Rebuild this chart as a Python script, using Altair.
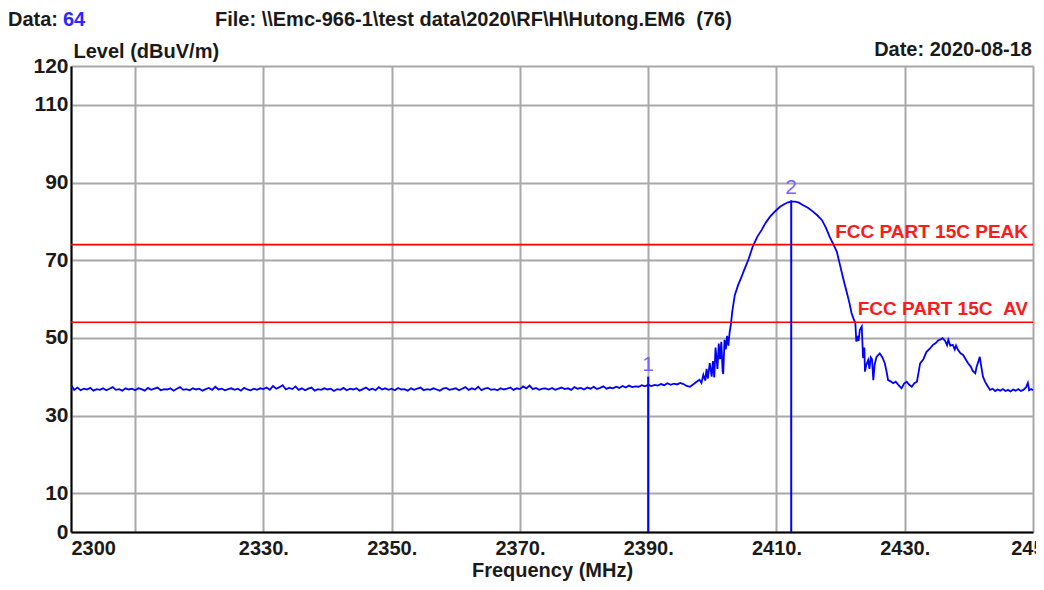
import altair as alt
import pandas as pd

# ---------------- data ----------------
# noise floor 2300 .. 2388 MHz, 0.5 MHz steps
noise_start = 2300.0
noise_step = 0.5
noise_level = [
    37.9, 36.6, 37.2, 36.5, 36.9, 36.7, 37.1, 36.4, 36.8, 36.6,
    37.0, 36.5, 36.9, 37.3, 36.6, 36.8, 36.4, 37.0, 36.7, 36.9,
    36.5, 37.0, 36.8, 36.4, 37.1, 36.6, 36.9, 37.2, 36.5, 36.8,
    36.7, 37.0, 36.4, 36.9, 37.3, 36.6, 36.8, 36.5, 37.0, 36.7,
    36.9, 36.4, 36.8, 37.1, 36.6, 37.4, 36.7, 36.9, 36.5, 36.8,
    37.0, 36.6, 36.9, 36.4, 37.1, 36.7, 36.5, 36.9, 36.6, 37.0,
    36.8, 37.2, 36.6, 37.6, 36.9, 37.3, 37.8, 36.7, 37.1, 36.8,
    37.5, 36.6, 37.0, 36.5, 36.9, 37.2, 36.4, 36.8, 36.6, 37.0,
    36.7, 36.9, 36.3, 36.8, 36.6, 37.1, 36.5, 36.9, 36.7, 37.0,
    36.4, 36.8, 37.2, 36.6, 36.9, 36.5, 37.3, 36.7, 37.0, 36.6,
    36.9, 36.5, 37.1, 36.7, 36.8, 36.4, 37.0, 36.6, 36.9, 37.2,
    36.5, 36.8, 36.6, 37.0, 36.7, 36.4, 36.9, 37.1, 36.6, 36.8,
    37.0, 36.5, 36.9, 37.3, 36.6, 37.0, 36.7, 37.4, 36.5, 36.9,
    37.1, 36.6, 36.8, 36.5, 37.0, 36.7, 36.9, 37.2, 36.6, 37.0,
    36.8, 37.5, 37.0, 37.7, 36.8, 37.1, 36.6, 36.9, 37.0, 36.7,
    37.1, 36.6, 36.9, 37.2, 36.8, 37.0, 36.6, 37.3, 36.9, 37.1,
    36.7, 37.2, 36.9, 37.4, 36.8, 37.1, 37.5, 36.9, 37.2, 37.0,
    37.4, 37.1, 37.6, 37.2, 37.7, 37.3, 37.5,
]
noise_freq = [noise_start + noise_step * i for i in range(len(noise_level))]

# signal region 2388.5 .. 2450 MHz
sig_freq = [
    2388.5, 2389.0, 2389.5, 2390.0, 2390.5, 2391.0, 2391.5, 2392.0, 2392.5, 2393.0,
    2393.5, 2394.0, 2394.5, 2395.0, 2395.5, 2396.0, 2396.5, 2397.0, 2397.5, 2398.0,
    2398.3, 2398.6, 2398.9, 2399.1, 2399.3, 2399.6, 2399.9, 2400.1, 2400.3, 2400.5,
    2400.8, 2401.0, 2401.2, 2401.4, 2401.6, 2401.7, 2401.9, 2402.1, 2402.3, 2402.5,
    2402.7, 2402.9, 2403.1, 2403.5, 2404.0, 2404.5, 2405.1, 2405.7, 2406.3, 2407.0,
    2407.7, 2408.3, 2409.0, 2409.8, 2410.6, 2411.2, 2411.8, 2412.3, 2412.9, 2413.5,
    2414.1, 2414.9, 2415.7, 2416.4, 2417.1, 2417.7, 2418.3, 2418.9, 2419.4, 2419.8,
    2420.2, 2420.6, 2421.0, 2421.4, 2421.7, 2422.0, 2422.3, 2422.45, 2422.6, 2422.8,
    2423.0, 2423.3, 2423.5, 2423.7, 2423.8, 2424.0, 2424.3, 2424.5, 2424.7, 2424.9,
    2425.1, 2425.3, 2425.6, 2426.1, 2426.5, 2426.9, 2427.2, 2427.4, 2427.8, 2428.2,
    2428.6, 2429.0, 2429.5, 2429.9, 2430.3, 2430.7, 2431.1, 2431.5, 2431.9, 2432.2,
    2432.4, 2432.9, 2433.4, 2433.9, 2434.4, 2434.8, 2435.2, 2435.6, 2435.9, 2436.3,
    2436.6, 2436.8, 2437.1, 2437.5, 2437.8, 2438.0, 2438.3, 2438.7, 2439.1, 2439.5,
    2439.9, 2440.3, 2440.6, 2441.0, 2441.2, 2441.5, 2441.7, 2441.9, 2442.2, 2442.5,
    2442.8, 2443.3, 2443.7, 2444.1, 2444.5, 2444.9, 2445.3, 2445.7, 2446.1, 2446.5,
    2446.9, 2447.3, 2447.7, 2448.1, 2448.5, 2448.9, 2449.2, 2449.4, 2449.7, 2450.0,
]
sig_level = [
    37.4, 37.8, 37.5, 37.9, 37.6, 37.9, 37.7, 38.1, 37.8, 38.3,
    37.9, 38.2, 38.0, 38.4, 38.1, 37.6, 37.4, 38.0, 38.6, 39.2,
    38.4, 40.5, 39.0, 42.0, 39.5, 43.5, 40.0, 44.0, 39.8, 47.5,
    42.0, 48.5, 44.5, 49.0, 41.5, 40.7, 49.5, 47.0, 50.5, 48.0,
    51.5, 53.5, 56.7, 61.0, 63.5, 65.5, 68.0, 70.5, 73.5, 76.0,
    77.8, 79.6, 81.2, 82.6, 83.8, 84.4, 84.9, 85.1, 85.1, 84.8,
    84.2, 83.5, 82.5, 81.5, 80.3, 78.4, 76.0, 74.0, 72.2, 69.5,
    66.7, 64.0, 61.5, 58.8, 56.4, 55.0, 53.8, 49.0, 50.5, 49.2,
    52.0, 52.9, 44.8, 47.5, 41.3, 43.0, 44.3, 42.0, 45.0, 44.5,
    39.1, 43.0, 45.1, 46.0, 45.0, 43.4, 41.0, 39.1, 38.8, 38.3,
    38.7, 37.9, 37.0, 38.2, 38.7, 37.9, 37.4, 38.3, 38.7, 41.5,
    43.4, 44.5, 46.4, 47.2, 48.2, 48.6, 49.3, 49.6, 49.9, 49.2,
    48.1, 49.5, 48.0, 48.2, 47.0, 48.0, 46.9, 46.0, 45.6, 44.5,
    43.4, 42.6, 41.5, 40.9, 42.5, 44.0, 45.1, 43.0, 40.0, 38.8,
    37.9, 36.6, 36.9, 36.3, 36.7, 36.4, 36.8, 36.3, 36.6, 36.2,
    36.7, 36.4, 36.8, 36.3, 36.6, 37.2, 38.4, 36.5, 36.8, 36.5,
]

freq = noise_freq + sig_freq
level = noise_level + sig_level

limit_values = [74.0, 54.0]
limit_labels = ["FCC PART 15C PEAK", "FCC PART 15C\u00a0\u00a0AV"]

marker_freq = [2390.0, 2412.3]
marker_level = [40.0, 85.4]
marker_names = ["1", "2"]

x_ticks = [2300, 2310, 2330, 2350, 2370, 2390, 2410, 2430, 2450]
x_tick_labels = ["2300", "", "2330.", "2350.", "2370.", "2390.", "2410.", "2430.", "2450"]
y_ticks = [0, 10, 30, 50, 70, 90, 110, 120]

header_data_label = "Data:"
header_data_value = "64"
header_file = "File: \\\\Emc-966-1\\test data\\2020\\RF\\H\\Hutong.EM6\u00a0\u00a0(76)"
header_date = "Date: 2020-08-18"
x_title = "Frequency (MHz)"
y_title = "Level (dBuV/m)"

# ---------------- chart ----------------
FONT = "Liberation Sans"
TXT = "#1a1a1a"
PLOT_W, PLOT_H = 962, 466

trace_df = pd.DataFrame({"freq": freq, "level": level})
limit_df = pd.DataFrame({"value": limit_values, "label": limit_labels})
marker_df = pd.DataFrame({"freq": marker_freq, "level": marker_level,
                          "zero": [0.0] * len(marker_freq), "name": marker_names})

label_expr = " : ".join(
    f"datum.value == {v} ? '{t}'" for v, t in zip(x_ticks, x_tick_labels)
) + " : ''"

x_scale = alt.Scale(domain=[2300, 2450], nice=False, zero=False)
y_scale = alt.Scale(domain=[0, 120], nice=False, zero=True)

x_axis = alt.Axis(
    values=x_ticks, labelExpr=label_expr,
    labelAlign={"expr": "datum.value == 2300 ? 'left' : 'center'"},
    labelFont=FONT, labelFontSize=20, labelFontWeight="bold", labelColor=TXT,
    labelPadding=6, ticks=False, grid=True, gridColor="#a8a8a8", gridWidth=2,
    domain=True, domainColor="#000000", domainWidth=2,
    title=x_title, titleFont=FONT, titleFontSize=20, titleFontWeight="bold",
    titleColor=TXT, titlePadding=2,
)
y_axis = alt.Axis(
    values=y_ticks, labelFont=FONT, labelFontSize=21, labelFontWeight="bold",
    labelColor=TXT, labelPadding=3, ticks=False, grid=True, gridColor="#a8a8a8",
    gridWidth=2, domain=True, domainColor="#000000", domainWidth=2,
    title=y_title, titleFont=FONT, titleFontSize=20, titleFontWeight="bold",
    titleColor=TXT, titleAngle=0, titleAlign="left", titleBaseline="bottom",
    titleX=2, titleY=-5,
)

trace = alt.Chart(trace_df).mark_line(color="#0000ff", strokeWidth=1.8).encode(
    x=alt.X("freq:Q", scale=x_scale, axis=x_axis),
    y=alt.Y("level:Q", scale=y_scale, axis=y_axis),
)

limits = alt.Chart(limit_df).mark_rule(color="#ff0000", strokeWidth=1.6).encode(
    y=alt.Y("value:Q", scale=y_scale),
)
limit_text = alt.Chart(limit_df).mark_text(
    color="#ff1a1a", font=FONT, fontSize=19, fontWeight="bold",
    align="right", baseline="bottom", dy=-3,
).encode(
    x=alt.value(PLOT_W - 5),
    y=alt.Y("value:Q", scale=y_scale),
    text="label:N",
)

markers = alt.Chart(marker_df).mark_rule(color="#0000ff", strokeWidth=2).encode(
    x=alt.X("freq:Q", scale=x_scale),
    y=alt.Y("level:Q", scale=y_scale),
    y2="zero:Q",
)
marker_text = alt.Chart(marker_df).mark_text(
    color="#7b61ff", font=FONT, fontSize=21, baseline="bottom", dy=-2,
).encode(
    x=alt.X("freq:Q", scale=x_scale),
    y=alt.Y("level:Q", scale=y_scale),
    text="name:N",
)

hdr_df = pd.DataFrame({"t": [header_data_label, header_data_value, header_file, header_date]})

def header(idx, x, y, color=TXT, align="left"):
    return alt.Chart(hdr_df.iloc[[idx]]).mark_text(
        font=FONT, fontSize=20, fontWeight="bold", color=color,
        align=align, baseline="middle",
    ).encode(x=alt.value(x), y=alt.value(y), text="t:N")

h1 = header(0, -63, -46)
h2 = header(1, -8, -46, color="#2a2aff")
h3 = header(2, 144, -46)
h4 = header(3, PLOT_W - 1, -16, align="right")

chart = alt.layer(
    trace, limits, markers, limit_text, marker_text, h1, h2, h3, h4
).properties(
    width=PLOT_W, height=PLOT_H,
    autosize=alt.AutoSizeParams(type="none"),
    padding={"left": 63, "top": 58, "right": 3, "bottom": 50},
).configure_view(
    stroke="#303030", strokeWidth=1.5,
).configure(background="#ffffff")

chart.save("out.html", embed_options={"renderer": "svg", "actions": False})
